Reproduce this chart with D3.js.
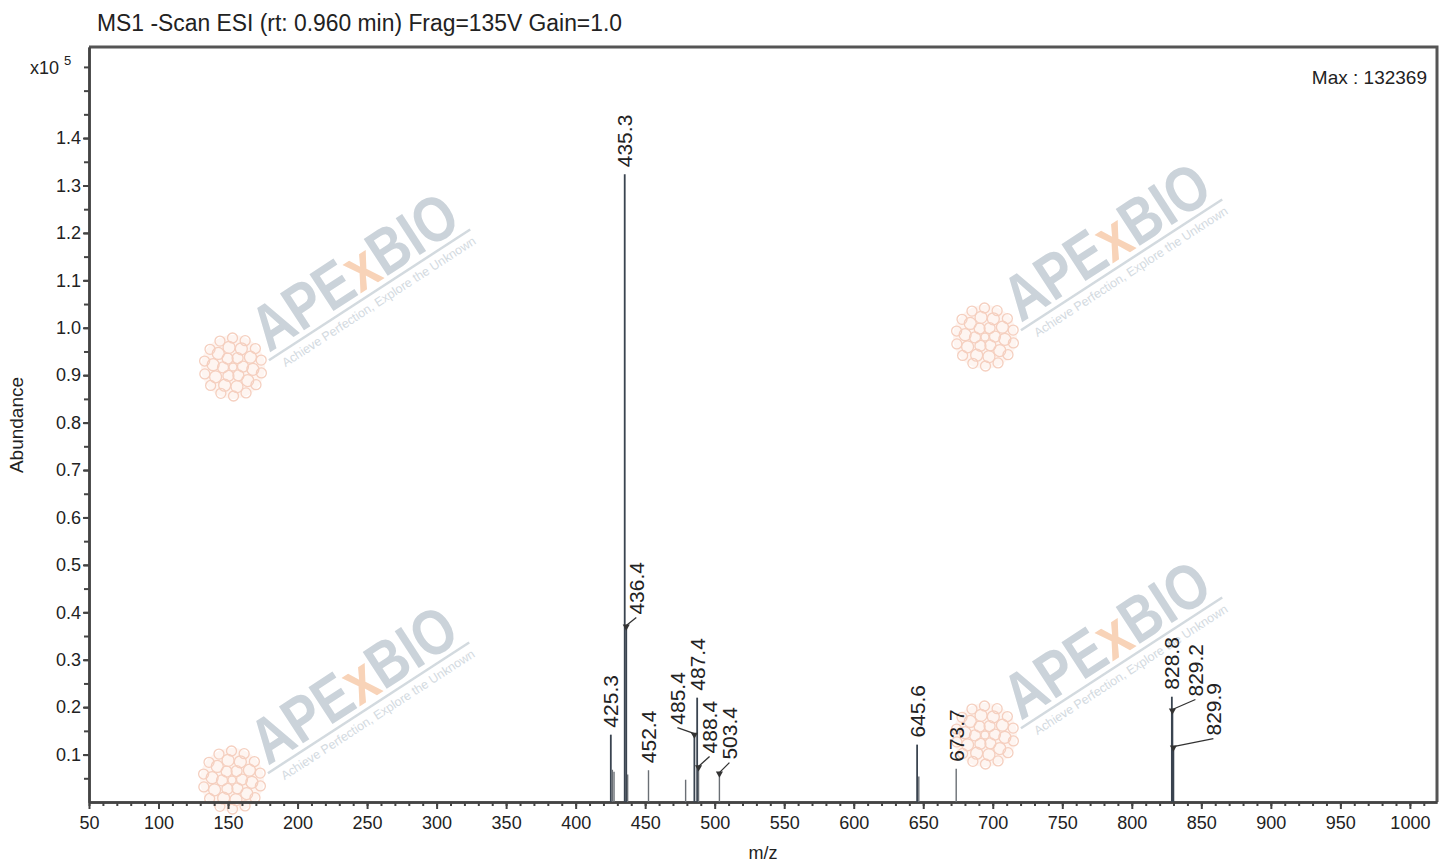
<!DOCTYPE html>
<html>
<head>
<meta charset="utf-8">
<script src="https://cdn.jsdelivr.net/npm/d3@7"></script>
<style>
  body { margin: 0; background: #fff; }
  text { font-family: "Liberation Sans", Arial, sans-serif; fill: #222; }
</style>
</head>
<body>
<div id="chart"></div>
<script>
// peak list (abundance in units of 1e5)
var peakMz = [425.3, 426.4, 427.6, 435.3, 436.4, 437.4, 452.4, 479.1, 485.4, 487.4, 488.4, 503.4, 645.6, 646.8, 673.7, 828.8, 829.2, 829.9];
var peakAbund = [0.142, 0.068, 0.064, 1.32369, 0.372, 0.058, 0.067, 0.047, 0.144, 0.220, 0.075, 0.062, 0.121, 0.054, 0.070, 0.222, 0.195, 0.117];
var peakLabels = ["425.3", "", "", "435.3", "436.4", "", "452.4", "", "485.4", "487.4", "488.4", "503.4", "645.6", "", "673.7", "828.8", "829.2", "829.9"];

var xTicks = [50, 100, 150, 200, 250, 300, 350, 400, 450, 500, 550, 600, 650, 700, 750, 800, 850, 900, 950, 1000];
var yTicks = [0.1, 0.2, 0.3, 0.4, 0.5, 0.6, 0.7, 0.8, 0.9, 1.0, 1.1, 1.2, 1.3, 1.4];

var title = "MS1 -Scan ESI (rt: 0.960 min) Frag=135V Gain=1.0";
var maxText = "Max : 132369";

// labels drawn with a leader line: pixel offset of the label foot from the peak marker
var leaderOffset = {
  "436.4": [10, -8],
  "485.4": [-17, -6],
  "488.4": [11, -10],
  "503.4": [10, -10],
  "829.2": [23, -10],
  "829.9": [40, -8]
};

var W = 1450, H = 864;
var margin = { top: 47, right: 13, bottom: 62, left: 89 };

var svg = d3.select("#chart").append("svg")
  .attr("width", W)
  .attr("height", H);

var x = d3.scaleLinear().domain([50, 1019.5]).range([margin.left, W - margin.right]);
var y = d3.scaleLinear().domain([0, 1.592]).range([H - margin.bottom, margin.top]);

var x0 = x.range()[0], x1 = x.range()[1];
var yb = y.range()[0], yt = y.range()[1];

// watermarks
var logoSpots = [[233, 367], [985, 337], [232, 780], [985, 735]];
var wm = svg.append("g").attr("class", "watermarks");
logoSpots.forEach(function(p) {
  var g = wm.append("g").attr("transform", "translate(" + p[0] + "," + p[1] + ")");
  g.append("circle").attr("r", 32).attr("fill", "#fef5f1");
  var rings = [[0, 1, 4], [10, 6, 5.5], [20, 10, 6], [29, 14, 5]];
  rings.forEach(function(r) {
    for (var i = 0; i < r[1]; i++) {
      var a = (i / r[1]) * 2 * Math.PI + r[0] * 0.1;
      g.append("circle")
        .attr("cx", r[0] * Math.cos(a))
        .attr("cy", r[0] * Math.sin(a))
        .attr("r", r[2])
        .attr("fill", "none")
        .attr("stroke", "#f5cfbf")
        .attr("stroke-width", 1.3);
    }
  });
  var t = g.append("g").attr("transform", "translate(36,-14) rotate(-33)");
  var txt = t.append("text")
    .attr("x", 0).attr("y", 0)
    .attr("textLength", 232)
    .attr("lengthAdjust", "spacingAndGlyphs")
    .style("font-size", "64px")
    .style("font-weight", "bold")
    .style("fill", "#cbd3da");
  txt.append("tspan").text("APE");
  txt.append("tspan").style("fill", "#f8d3b8").text("x");
  txt.append("tspan").text("BIO");
  t.append("line")
    .attr("x1", -4).attr("y1", 6).attr("x2", 236).attr("y2", 6)
    .attr("stroke", "#d3dadf").attr("stroke-width", 2.5);
  t.append("text")
    .attr("x", 6).attr("y", 21)
    .attr("textLength", 228)
    .attr("lengthAdjust", "spacingAndGlyphs")
    .style("font-size", "12.5px")
    .style("fill", "#d3dadf")
    .text("Achieve Perfection, Explore the Unknown");
});

// frame
svg.append("path")
  .attr("d", "M" + x0 + "," + yt + "H" + x1 + "V" + yb)
  .attr("fill", "none")
  .attr("stroke", "#555")
  .attr("stroke-width", 3);

// axes
var xAxis = d3.axisBottom(x).tickValues(xTicks).tickSize(7).tickSizeOuter(0).tickFormat(d3.format("d"));
var xMinor = d3.axisBottom(x).tickValues(d3.range(50, 1020, 10)).tickSize(4).tickSizeOuter(0).tickFormat("");
var yAxis = d3.axisLeft(y).tickValues(yTicks).tickSize(6).tickSizeOuter(0).tickFormat(d3.format(".1f"));
var yMinor = d3.axisLeft(y).tickValues(d3.range(0.05, 1.58, 0.05)).tickSize(5).tickSizeOuter(0).tickFormat("");

function styleAxis(g) {
  g.select(".domain").attr("stroke", "#444").attr("stroke-width", 2.5);
  g.selectAll(".tick line").attr("stroke", "#444").attr("stroke-width", 2);
  g.selectAll(".tick text")
    .style("font-family", "'Liberation Sans', Arial, sans-serif")
    .style("font-size", "18px")
    .attr("fill", "#222");
}

svg.append("g").attr("transform", "translate(0," + yb + ")").call(xMinor).call(styleAxis);
svg.append("g").attr("transform", "translate(0," + yb + ")").call(xAxis).call(styleAxis)
  .selectAll(".tick text").attr("dy", "0.95em");
svg.append("g").attr("transform", "translate(" + x0 + ",0)").call(yMinor).call(styleAxis);
svg.append("g").attr("transform", "translate(" + x0 + ",0)").call(yAxis).call(styleAxis)
  .selectAll(".tick text").attr("x", -8);

// peaks
var peaks = peakMz.map(function(m, i) {
  return { mz: m, ab: peakAbund[i], label: peakLabels[i] };
});

svg.append("g").selectAll("line.peak")
  .data(peaks)
  .enter()
  .append("line")
  .attr("class", "peak")
  .attr("x1", function(d) { return x(d.mz); })
  .attr("x2", function(d) { return x(d.mz); })
  .attr("y1", yb)
  .attr("y2", function(d) { return y(d.ab); })
  .attr("stroke", function(d) { return d.ab > 0.1 ? "#3a4450" : "#6a6f75"; })
  .attr("stroke-width", function(d) { return d.ab > 0.1 ? 1.8 : 1.4; });

var lab = svg.append("g");
peaks.filter(function(d) { return d.label; }).forEach(function(d) {
  var px = x(d.mz), py = y(d.ab);
  var off = leaderOffset[d.label];
  var lx = px, ly = py - 7;
  if (off) {
    lx = px + off[0];
    ly = py + off[1];
    lab.append("line")
      .attr("x1", px).attr("y1", py)
      .attr("x2", lx).attr("y2", ly)
      .attr("stroke", "#333").attr("stroke-width", 1.3);
    lab.append("path")
      .attr("d", d3.symbol().type(d3.symbolTriangle).size(22))
      .attr("transform", "translate(" + px + "," + (py + 1) + ") rotate(180)")
      .attr("fill", "#333");
    ly = ly - 3;
  }
  lab.append("text")
    .attr("transform", "translate(" + lx + "," + ly + ") rotate(-90)")
    .attr("dy", "0.36em")
    .style("font-size", "21px")
    .text(d.label);
});

// text
svg.append("text")
  .attr("x", 97).attr("y", 31)
  .attr("textLength", 525)
  .attr("lengthAdjust", "spacingAndGlyphs")
  .style("font-size", "23px")
  .text(title);

svg.append("text")
  .attr("x", 1427).attr("y", 84)
  .attr("text-anchor", "end")
  .style("font-size", "19px")
  .text(maxText);

var sc = svg.append("text")
  .attr("x", 30).attr("y", 74)
  .style("font-size", "18px");
sc.append("tspan").text("x10 ");
sc.append("tspan").attr("dy", -9).style("font-size", "13px").text("5");

svg.append("text")
  .attr("transform", "translate(23,425) rotate(-90)")
  .attr("text-anchor", "middle")
  .style("font-size", "19px")
  .text("Abundance");

svg.append("text")
  .attr("x", 763).attr("y", 859)
  .attr("text-anchor", "middle")
  .style("font-size", "18px")
  .text("m/z");
</script>
</body>
</html>
